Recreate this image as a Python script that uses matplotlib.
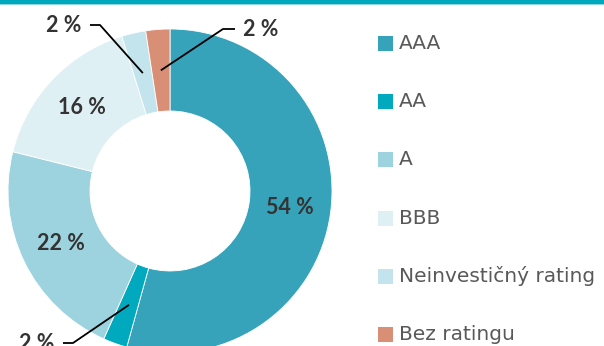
import numpy as np
import matplotlib
matplotlib.use("Agg")
import matplotlib.pyplot as plt
from matplotlib.patches import Rectangle

# Portfolio breakdown by credit rating (share in %)
categories = ["AAA", "AA", "A", "BBB", "Neinvestičný rating", "Bez ratingu"]
shares = [54.3, 2.4, 22.2, 16.3, 2.4, 2.4]
colors = ["#36a3bb", "#00a9be", "#9dd3df", "#dff0f4", "#c3e4ec", "#d98f76"]

W, H = 604, 346
fig = plt.figure(figsize=(W / 100, H / 100), dpi=100)
ax = fig.add_axes([0, 0, 1, 1])

cx, cy = 170, H - 191
r_out, r_in = 162, 80

wedges, _ = ax.pie(
    shares, colors=colors, startangle=90, counterclock=False,
    center=(cx, cy), radius=r_out, frame=True,
    wedgeprops=dict(width=r_out - r_in, edgecolor="white", linewidth=0.6),
)
ax.set_xlim(0, W)
ax.set_ylim(0, H)
ax.set_aspect("equal")
ax.axis("off")

lab_font = dict(family=["Lato", "DejaVu Sans"], fontweight="bold",
                fontsize=15.5, color="#333333")

# mid-angles of each wedge, measured clockwise from 12 o'clock
cum = np.cumsum([0] + shares)
total = cum[-1]
mids = [(cum[i] + cum[i + 1]) / 2 / total * 360 for i in range(len(shares))]

def ring_point(angle_deg, r):
    a = np.deg2rad(angle_deg)
    return cx + r * np.sin(a), cy + r * np.cos(a)

r_mid = (r_out + r_in) / 2
# large slices: labels inside the ring
for i in (0, 2, 3):
    x, y = ring_point(mids[i], r_mid)
    ax.text(x, y, f"{shares[i]:.0f} %", ha="center", va="center", **lab_font)

# small slices: labels outside with leader lines (elbow point, horizontal end)
callouts = {
    1: ((73, H - 343), (63, H - 343), "right"),
    4: ((100, H - 25), (90, H - 25), "right"),
    5: ((223, H - 29), (235, H - 29), "left"),
}
for i, (elbow, end, side) in callouts.items():
    px, py = ring_point(mids[i], r_mid)
    ax.plot([px, elbow[0], end[0]], [py, elbow[1], end[1]],
            color="black", linewidth=1.3, solid_capstyle="butt", zorder=5)
    tx = end[0] - 9 if side == "right" else end[0] + 8
    ax.text(tx, end[1] - 1, f"{shares[i]:.0f} %", ha=side, va="center", **lab_font)

# legend
leg_font = dict(family=["DejaVu Sans"], fontsize=14.5, color="#595959")
for k, (name, col) in enumerate(zip(categories, colors)):
    yc = H - (43.5 + 58.2 * k)
    ax.add_patch(Rectangle((378, yc - 7.5), 15, 15, facecolor=col, edgecolor="none"))
    ax.text(399, yc, name, ha="left", va="center", **leg_font)

# accent band along the top edge
ax.add_patch(Rectangle((0, H - 4), W, 4, facecolor="#00a8bd", edgecolor="none", zorder=10))
ax.add_patch(Rectangle((0, H - 5), W, 1, facecolor="#8fd6de", edgecolor="none", zorder=10))

fig.savefig("out.png", dpi=100)
